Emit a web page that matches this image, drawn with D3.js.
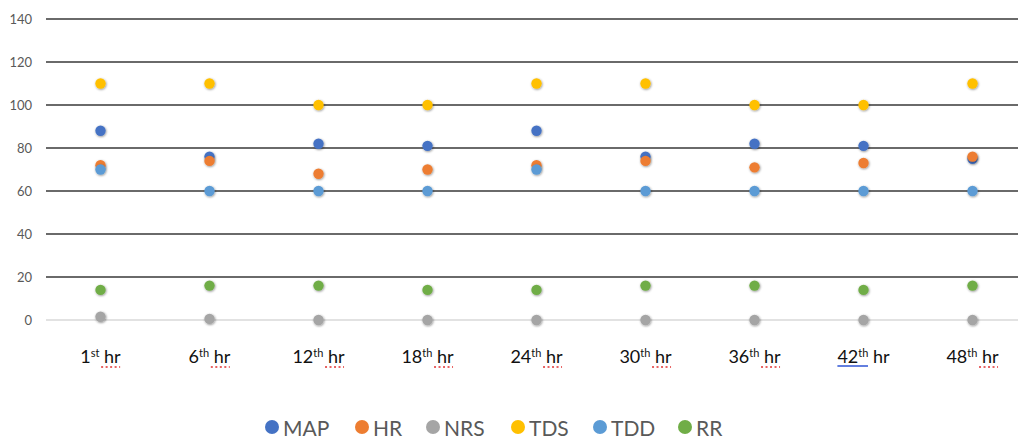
<!DOCTYPE html>
<html><head><meta charset="utf-8">
<script src="https://cdn.jsdelivr.net/npm/d3@7"></script>
<style>
html,body{margin:0;padding:0;background:#fff;}
svg{display:block;}
</style></head>
<body>
<svg id="chart" width="1018" height="439"></svg>
<script>
const categories = ["1st","6th","12th","18th","24th","30th","36th","42nd","48th"];
const labelNum = ["1","6","12","18","24","30","36","42","48"];
const labelSup = ["st","th","th","th","th","th","th","th","th"];
const seriesNames = ["MAP","HR","NRS","TDS","TDD","RR"];
const MAP = [88,76,82,81,88,76,82,81,75];
const HR  = [72,74,68,70,72,74,71,73,76];
const NRS = [1.5,0.5,0,0,0,0,0,0,0];
const TDS = [110,110,100,100,110,110,100,100,110];
const TDD = [70,60,60,60,70,60,60,60,60];
const RR  = [14,16,16,14,14,16,16,14,16];
const yTicks = [0,20,40,60,80,100,120,140];
const colors = ["#4472C4","#ED7D31","#A5A5A5","#FFC000","#5B9BD5","#70AD47"];

const seriesValues = [MAP,HR,NRS,TDS,TDD,RR];
const svg = d3.select("#chart");

const defs = svg.append("defs");
const f = defs.append("filter").attr("id","sh").attr("x","-50%").attr("y","-50%").attr("width","200%").attr("height","200%");
f.append("feDropShadow").attr("dx",0.6).attr("dy",0.8).attr("stdDeviation",0.9).attr("flood-color","#000").attr("flood-opacity",0.45);

const x = d3.scaleBand().domain(categories).range([46,1027]).padding(0);
const y = d3.scaleLinear().domain([0,140]).range([320,19]);

// gridlines
const grid = svg.append("g");
grid.selectAll("line").data(yTicks).join("line")
  .attr("x1",46).attr("x2",1027)
  .attr("y1",d=>y(d)).attr("y2",d=>y(d))
  .attr("stroke",d=>d===0?"#d9d9d9":"#6a6a6a")
  .attr("stroke-width",d=>d===0?1.5:2.2);

// y axis labels
const yAxis = d3.axisLeft(y).tickValues(yTicks).tickSize(0).tickPadding(0);
const ya = svg.append("g").attr("transform","translate(32,0)").call(yAxis);
ya.select(".domain").remove();
ya.selectAll("text").attr("fill","#595959").attr("font-family","Lato, 'Open Sans', sans-serif").attr("font-size",13);

// x labels
const xl = svg.append("g");
categories.forEach((c,i)=>{
  const cx = x(c)+x.bandwidth()/2;
  const t = xl.append("text").attr("x",cx).attr("y",363).attr("text-anchor","middle")
    .attr("font-family","Lato, 'Open Sans', sans-serif").attr("font-size",18).attr("fill","#111");
  t.append("tspan").text(labelNum[i]);
  t.append("tspan").attr("dy",-6).attr("font-size",11).text(labelSup[i]);
  t.append("tspan").attr("dy",6).text("\u00a0hr");
});
// spell-check underlines
xl.selectAll("text").each(function(d,i){
  const bb = this.getBBox();
  const g = d3.select(this.parentNode);
  if(i===7){
    g.append("line").attr("x1",bb.x).attr("x2",bb.x+bb.width-22).attr("y1",366).attr("y2",366)
      .attr("stroke","#2f55d4").attr("stroke-width",1.5);
  } else {
    g.append("line").attr("x1",bb.x+bb.width-20).attr("x2",bb.x+bb.width-1).attr("y1",367).attr("y2",367)
      .attr("stroke","#e03030").attr("stroke-width",1.3).attr("stroke-dasharray","2,2.5");
  }
});

// dots
seriesValues.forEach((vals,si)=>{
  svg.append("g").attr("filter","url(#sh)")
    .selectAll("circle").data(vals).join("circle")
    .attr("cx",(d,i)=>x(categories[i])+x.bandwidth()/2)
    .attr("cy",d=>y(d))
    .attr("r",5.2)
    .attr("fill",colors[si]);
});

// legend
const legendX = [272,362,433,518,600,685];
const lg = svg.append("g");
seriesNames.forEach((n,i)=>{
  lg.append("circle").attr("cx",legendX[i]).attr("cy",427).attr("r",7).attr("fill",colors[i]);
  lg.append("text").attr("x",legendX[i]+11).attr("y",427).attr("dominant-baseline","central").text(n)
    .attr("font-family","Lato, 'Open Sans', sans-serif").attr("font-size",21).attr("fill","#595959");
});
</script>
</body></html>
